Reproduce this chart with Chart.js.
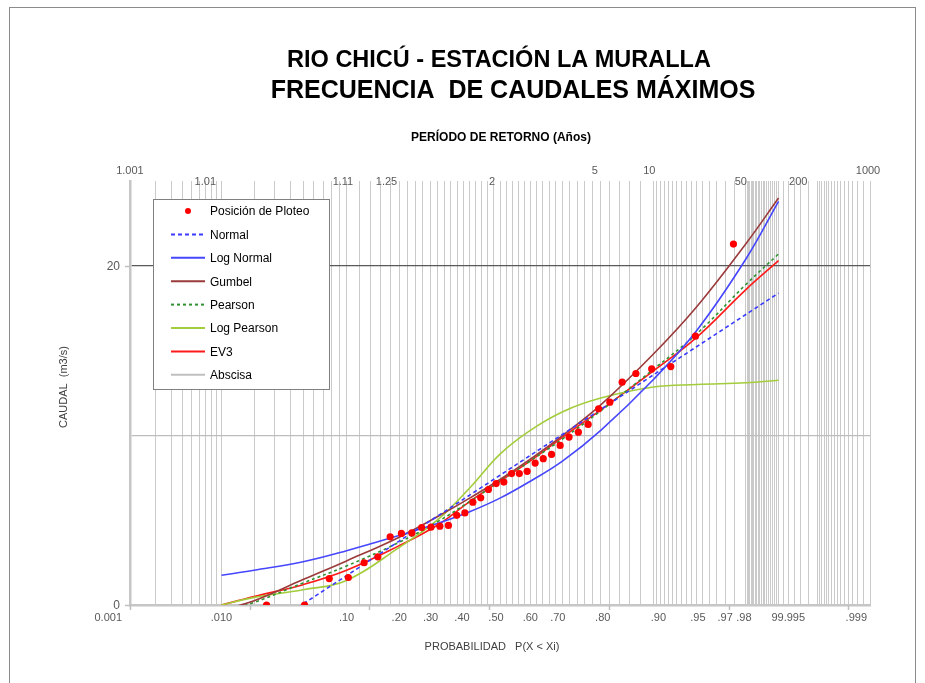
<!DOCTYPE html>
<html>
<head>
<meta charset="utf-8">
<script src="https://cdn.jsdelivr.net/npm/chart.js@4.4.1/dist/chart.umd.min.js"></script>
<style>
  html, body { margin: 0; padding: 0; background: #ffffff; }
  canvas { display: block; }
</style>
</head>
<body>
<canvas id="chart" width="925" height="683"></canvas>
<script>
// ---- Data ---------------------------------------------------------------
// Non-exceedance probabilities at which each fitted distribution is tabulated
const curveProb   = [0.01, 0.02, 0.05, 0.10, 0.20, 0.30, 0.40, 0.50, 0.60, 0.70, 0.80, 0.90, 0.95, 0.98, 0.99];
// Fitted discharges (m3/s)
const qNormal     = [-3.09, -1.83, 0.06, 1.73, 3.77, 5.23, 6.48, 7.65, 8.82, 10.07, 11.53, 13.57, 15.24, 17.13, 18.39];
const qLogNormal  = [1.75, 2.05, 2.55, 3.20, 4.10, 4.80, 5.50, 6.30, 7.30, 8.50, 10.30, 13.30, 16.20, 20.40, 23.80];
const qGumbel     = [-0.30, 0.25, 1.50, 2.60, 4.00, 5.20, 6.30, 7.40, 8.60, 10.00, 11.80, 14.80, 17.60, 21.30, 24.00];
const qPearson    = [-0.40, 0.15, 1.30, 2.30, 3.70, 4.90, 6.10, 7.30, 8.50, 9.80, 11.45, 13.90, 16.00, 18.90, 20.70];
const qLogPearson = [0.00, 0.45, 0.90, 1.45, 3.40, 5.00, 6.90, 8.90, 10.30, 11.40, 12.20, 12.85, 13.00, 13.10, 13.25];
const qEV3        = [0.00, 0.50, 1.20, 2.05, 3.50, 4.70, 6.10, 7.30, 8.50, 9.90, 11.50, 13.80, 15.80, 18.60, 20.30];

// Plotting positions m/(n+1) of the observed annual maxima
const obsProb = [0.0256, 0.0513, 0.0769, 0.1026, 0.1282, 0.1538, 0.1795, 0.2051, 0.2308, 0.2564,
                 0.2821, 0.3077, 0.3333, 0.3590, 0.3846, 0.4103, 0.4359, 0.4615, 0.4872, 0.5128,
                 0.5385, 0.5641, 0.5897, 0.6154, 0.6410, 0.6667, 0.6923, 0.7179, 0.7436, 0.7692,
                 0.7949, 0.8205, 0.8462, 0.8718, 0.8974, 0.9231, 0.9487, 0.9744];
// Observed annual maximum discharges, sorted (m3/s)
const obsQ = [0.00, 0.00, 1.56, 1.62, 2.49, 2.84, 4.02, 4.22, 4.25, 4.57,
              4.59, 4.65, 4.69, 5.29, 5.43, 6.06, 6.32, 6.81, 7.16, 7.25,
              7.75, 7.75, 7.88, 8.37, 8.63, 8.88, 9.41, 9.90, 10.19, 10.65,
              11.57, 11.96, 13.14, 13.65, 13.92, 14.06, 15.85, 21.28];

// Probability axis labels (bottom) and return period labels (top)
const probLabels   = ['0.001', '.010', '.10', '.20', '.30', '.40', '.50', '.60', '.70', '.80', '.90', '.95', '.97', '.98', '99.995', '.999'];
const probValues   = [0.001, 0.01, 0.10, 0.20, 0.30, 0.40, 0.50, 0.60, 0.70, 0.80, 0.90, 0.95, 0.97, 0.98, 0.9925, 0.999];
const returnLabels = ['1.001', '1.01', '1.11', '1.25', '2', '5', '10', '50', '200', '1000'];
const returnYears  = [1.001, 1.01, 1.11, 1.25, 2, 5, 10, 50, 200, 1000];

// Discharge axis
const qTicks = [0, 10, 20];
const qTickLabels = ['0', '', '20'];

// ---- Normal probability (probit) axis -------------------------------------
function qnorm(p) {
  const a = [-3.969683028665376e+01, 2.209460984245205e+02, -2.759285104469687e+02, 1.383577518672690e+02, -3.066479806614716e+01, 2.506628277459239e+00];
  const b = [-5.447609879822406e+01, 1.615858368580409e+02, -1.556989798598866e+02, 6.680131188771972e+01, -1.328068155288572e+01];
  const c = [-7.784894002430293e-03, -3.223964580411365e-01, -2.400758277161838e+00, -2.549732539343734e+00, 4.374664141464968e+00, 2.938163982698783e+00];
  const d = [7.784695709041462e-03, 3.224671290700398e-01, 2.445134137142996e+00, 3.754408661907416e+00];
  const pl = 0.02425, ph = 1 - pl;
  let q, r;
  if (p < pl) {
    q = Math.sqrt(-2 * Math.log(p));
    return (((((c[0]*q+c[1])*q+c[2])*q+c[3])*q+c[4])*q+c[5]) / ((((d[0]*q+d[1])*q+d[2])*q+d[3])*q+1);
  }
  if (p > ph) {
    q = Math.sqrt(-2 * Math.log(1 - p));
    return -(((((c[0]*q+c[1])*q+c[2])*q+c[3])*q+c[4])*q+c[5]) / ((((d[0]*q+d[1])*q+d[2])*q+d[3])*q+1);
  }
  q = p - 0.5; r = q * q;
  return (((((a[0]*r+a[1])*r+a[2])*r+a[3])*r+a[4])*r+a[5])*q / (((((b[0]*r+b[1])*r+b[2])*r+b[3])*r+b[4])*r+1);
}

class ProbitScale extends Chart.LinearScale {
  parse(raw, index) {
    const v = super.parse(raw, index);
    if (v === null || v === undefined || !(v > 0 && v < 1)) return null;
    return qnorm(v);
  }
}
ProbitScale.id = 'probit';
ProbitScale.defaults = Chart.LinearScale.defaults;
Chart.register(ProbitScale);

// Probability paper rulings
function rulings() {
  const out = [];
  const add = (from, to, step) => {
    const n = Math.round((to - from) / step);
    for (let i = 0; i <= n; i++) out.push(+(from + i * step).toFixed(5));
  };
  add(0.001, 0.009, 0.001);
  add(0.01, 0.09, 0.01);
  add(0.10, 0.88, 0.02);
  add(0.90, 0.98, 0.005);
  add(0.9805, 0.99, 0.0005);
  add(0.991, 0.996, 0.001);
  add(0.9962, 0.999, 0.0002);
  return Array.from(new Set(out));
}
const rulingProbs = rulings();

const FONT = '"Liberation Sans", Arial, sans-serif';

const pts = (ys) => curveProb.map((p, i) => ({ x: p, y: ys[i] }));
const curve = (label, ys, color, dash, tension) => ({
  label, data: pts(ys), showLine: true, borderColor: color, backgroundColor: color,
  borderWidth: 1.6, borderDash: dash, pointRadius: 0, pointHoverRadius: 0, tension
});

// ---- Text, ticks and legend drawn on top of the plot ---------------------
const paperDecor = {
  id: 'paperDecor',
  beforeDraw(chart) {
    const ctx = chart.ctx;
    ctx.save();
    ctx.fillStyle = '#ffffff';
    ctx.fillRect(0, 0, chart.width, chart.height);
    ctx.strokeStyle = '#8c8c8c';
    ctx.lineWidth = 1;
    ctx.strokeRect(9.5, 7.5, 906, 690);
    ctx.restore();
  },
  afterDraw(chart) {
    const ctx = chart.ctx;
    const xs = chart.scales.x, ys = chart.scales.y;
    const area = chart.chartArea;
    ctx.save();

    // Titles
    ctx.fillStyle = '#000000';
    ctx.textAlign = 'center';
    ctx.textBaseline = 'middle';
    ctx.font = 'bold 23.5px ' + FONT;
    ctx.fillText('RIO CHICÚ - ESTACIÓN LA MURALLA', 499, 61);
    ctx.font = 'bold 25px ' + FONT;
    ctx.fillText('FRECUENCIA  DE CAUDALES MÁXIMOS', 513, 91);
    ctx.font = 'bold 12px ' + FONT;
    ctx.fillText('PERÍODO DE RETORNO (Años)', 501, 138);

    // Axis titles
    ctx.fillStyle = '#404040';
    ctx.font = '11px ' + FONT;
    ctx.fillText('PROBABILIDAD   P(X < Xi)', 492, 647);
    ctx.save();
    ctx.translate(64, 387);
    ctx.rotate(-Math.PI / 2);
    ctx.fillText('CAUDAL  (m3/s)', 0, 0);
    ctx.restore();

    // Tick marks on the axes
    ctx.strokeStyle = '#bfbfbf';
    ctx.lineWidth = 1.5;
    const zMin = xs.min;
    for (let k = 0; k <= 6; k++) {
      const px = Math.round(xs.getPixelForValue(zMin + k)) + 0.5;
      ctx.beginPath(); ctx.moveTo(px, area.bottom); ctx.lineTo(px, area.bottom + 5); ctx.stroke();
    }
    [0, 20].forEach(v => {
      const py = Math.round(ys.getPixelForValue(v)) + 0.5;
      ctx.beginPath(); ctx.moveTo(area.left - 5, py); ctx.lineTo(area.left, py); ctx.stroke();
    });

    // Discharge tick labels
    ctx.fillStyle = '#595959';
    ctx.font = '12px ' + FONT;
    ctx.textAlign = 'right';
    qTicks.forEach((v, i) => {
      if (qTickLabels[i]) ctx.fillText(qTickLabels[i], area.left - 10, ys.getPixelForValue(v) + 1);
    });

    // Probability labels below the axis
    const probLayout = [
      ['right', -8], ['center', 0], ['center', 0], ['center', 0], ['right', 1], ['right', 0],
      ['center', -4], ['center', 0], ['center', -5], ['center', 2], ['center', 5], ['center', 1],
      ['center', 0], ['center', -2], ['center', -3], ['right', -3]
    ];
    ctx.font = '11px ' + FONT;
    probLabels.forEach((t, i) => {
      const px = xs.getPixelForValue(xs.parse(probValues[i]));
      ctx.textAlign = probLayout[i][0];
      ctx.fillText(t, px + probLayout[i][1], 618);
    });

    // Return period labels above the plot
    const retLayout = [
      ['center', 0, 171], ['right', -5, 182], ['center', -3, 182], ['right', -2, 182], ['right', -5, 182],
      ['right', -3, 171], ['right', 2, 171], ['right', 1, 182], ['right', -1, 182], ['center', -2, 171]
    ];
    returnYears.forEach((T, i) => {
      const px = xs.getPixelForValue(xs.parse(1 - 1 / T));
      ctx.textAlign = retLayout[i][0];
      ctx.fillText(returnLabels[i], px + retLayout[i][1], retLayout[i][2]);
    });

    // Legend box
    const L = { x: 153.5, y: 199.5, w: 176, h: 190 };
    ctx.fillStyle = '#ffffff';
    ctx.fillRect(L.x, L.y, L.w, L.h);
    ctx.strokeStyle = '#808080';
    ctx.lineWidth = 1;
    ctx.setLineDash([]);
    ctx.strokeRect(L.x, L.y, L.w, L.h);
    ctx.font = '12px ' + FONT;
    ctx.textAlign = 'left';
    chart.data.datasets.forEach((ds, i) => {
      const cy = 211 + i * 23.4;
      if (ds.showLine) {
        ctx.strokeStyle = ds.borderColor;
        ctx.lineWidth = 2;
        ctx.setLineDash(ds.borderDash || []);
        ctx.beginPath(); ctx.moveTo(171, cy); ctx.lineTo(205, cy); ctx.stroke();
        ctx.setLineDash([]);
      } else {
        ctx.fillStyle = ds.backgroundColor;
        ctx.beginPath(); ctx.arc(188, cy, 3, 0, Math.PI * 2); ctx.fill();
      }
      ctx.fillStyle = '#000000';
      ctx.fillText(ds.label, 210, cy + 1);
    });
    ctx.restore();
  }
};

new Chart(document.getElementById('chart'), {
  type: 'scatter',
  data: {
    datasets: [
      { label: 'Posición de Ploteo', data: obsProb.map((p, i) => ({ x: p, y: obsQ[i] })),
        showLine: false, pointRadius: 3.6, pointHoverRadius: 3.6, pointBorderWidth: 0,
        backgroundColor: '#ff0000', borderColor: '#ff0000' },
      curve('Normal', qNormal, '#3b3bff', [4, 3], 0),
      curve('Log Normal', qLogNormal, '#4646ff', [], 0.4),
      curve('Gumbel', qGumbel, '#9b3a3a', [], 0.4),
      curve('Pearson', qPearson, '#2f922f', [3, 3], 0.4),
      curve('Log Pearson', qLogPearson, '#a3cd3b', [], 0.4),
      curve('EV3', qEV3, '#ff1a1a', [], 0.4),
      { label: 'Abscisa', data: [], showLine: true, borderColor: '#c0c0c0', backgroundColor: '#c0c0c0',
        borderWidth: 1, pointRadius: 0 }
    ]
  },
  options: {
    responsive: false,
    animation: false,
    events: [],
    layout: { padding: { left: 130, right: 55, top: 181, bottom: 78 } },
    plugins: { legend: { display: false }, tooltip: { enabled: false }, title: { display: false } },
    scales: {
      x: {
        type: 'probit',
        min: 0.001, max: 0.999,
        bounds: 'data',
        afterBuildTicks: (scale) => { scale.ticks = rulingProbs.map(p => ({ value: scale.parse(p) })); },
        ticks: { display: false },
        grid: { color: '#cacaca', lineWidth: 1, drawTicks: false },
        border: { display: true, color: '#c6c6c6', width: 2.5 }
      },
      y: {
        type: 'linear',
        min: 0, max: 25,
        afterBuildTicks: (scale) => { scale.ticks = qTicks.map(v => ({ value: v })); },
        ticks: { display: false },
        grid: {
          drawTicks: false,
          lineWidth: 1.2,
          color: (c) => c.tick && c.tick.value === 20 ? '#595959' : (c.tick && c.tick.value === 0 ? 'rgba(0,0,0,0)' : '#bdbdbd')
        },
        border: { display: true, color: '#c6c6c6', width: 2.5 }
      }
    }
  },
  plugins: [paperDecor]
});
</script>
</body>
</html>
